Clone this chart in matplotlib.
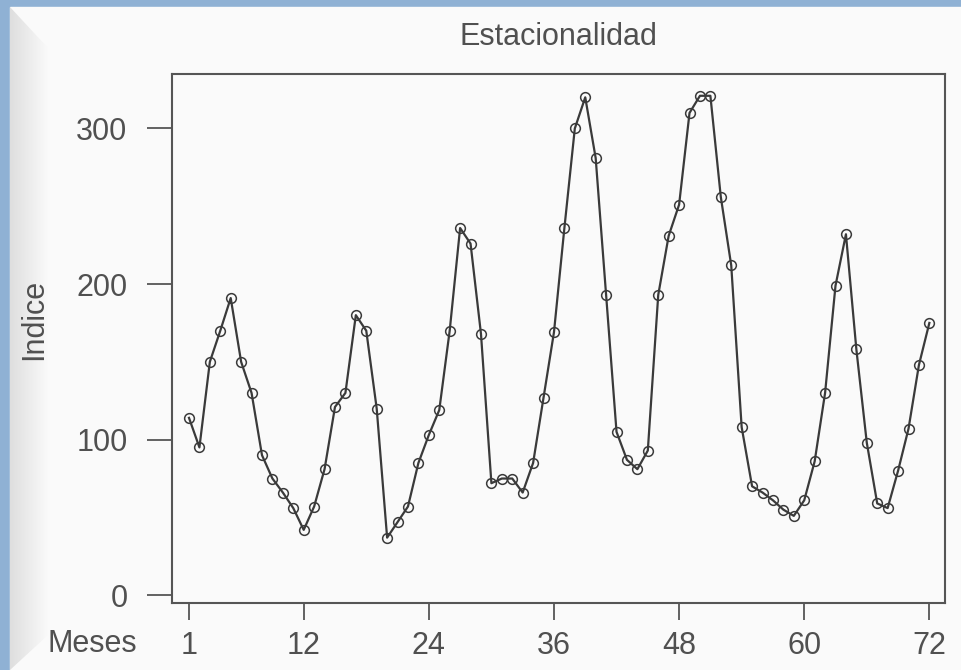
import matplotlib
matplotlib.use("Agg")
import matplotlib.pyplot as plt
from matplotlib.patches import Polygon, Rectangle

plt.rcParams['font.family'] = ['Liberation Sans', 'DejaVu Sans']

# Datos
meses = list(range(1, 73))
indice = [114, 95, 150, 170, 191, 150, 130, 90, 75, 66,
          56, 42, 57, 81, 121, 130, 180, 170, 120, 37,
          47, 57, 85, 103, 119, 170, 236, 226, 168, 72,
          75, 75, 66, 85, 127, 169, 236, 300, 320, 281,
          193, 105, 87, 81, 93, 193, 231, 251, 310, 321,
          321, 256, 212, 108, 70, 66, 61, 55, 51, 61,
          86, 130, 199, 232, 158, 98, 59, 56, 80, 107,
          148, 175]
xticks = [1, 12, 24, 36, 48, 60, 72]
yticks = [0, 100, 200, 300]

W, H = 961, 670
fig = plt.figure(figsize=(W / 100, H / 100), dpi=100)
fig.patch.set_facecolor('#8fb1d4')

# fondo tipo captura de pantalla (marco blanco con bisel a la izquierda)
bg = fig.add_axes([0, 0, 1, 1], zorder=-5)
bg.set_xlim(0, W)
bg.set_ylim(H, 0)
bg.axis('off')
bg.add_patch(Rectangle((0, 0), W, H, color='#8fb1d4'))
bg.add_patch(Rectangle((10, 7), W - 10, H - 7, color='#fafafa'))
n = 38
for k in range(n):
    x0 = 10 + k
    g = 0.87 + 0.11 * k / n
    yt0 = 7 + k * 41 / n
    yt1 = 7 + (k + 1) * 41 / n
    yb0 = H - k * 35 / n
    yb1 = H - (k + 1) * 35 / n
    bg.add_patch(Polygon([(x0, yt0), (x0 + 1, yt1), (x0 + 1, yb1), (x0, yb0)],
                         closed=True, facecolor=(g, g, g), edgecolor='none'))
bg.set_xlim(0, W)
bg.set_ylim(H, 0)

# grafico principal
left, right, top, bottom = 172, 945, 74, 603
ax = fig.add_axes([left / W, 1 - bottom / H, (right - left) / W, (bottom - top) / H])
ax.set_facecolor('#fafafa')
ax.plot(meses, indice, color='#3a3a3a', linewidth=1.6, marker='o', markersize=7,
        markerfacecolor='none', markeredgecolor='#3a3a3a', markeredgewidth=1.1)

ax.set_xlim(-0.63, 73.5)
ax.set_ylim(-5, 335)
ax.set_xticks(xticks)
ax.set_yticks(yticks)
ax.tick_params(axis='y', length=18, width=1.3, pad=14, labelsize=22,
               color='#555555', labelcolor='#505050')
ax.tick_params(axis='x', length=12, width=1.3, pad=8, labelsize=22,
               color='#555555', labelcolor='#505050')
for s in ax.spines.values():
    s.set_color('#555555')
    s.set_linewidth(1.5)

fig.text(558 / W, 1 - 37 / H, 'Estacionalidad', ha='center', va='center',
         fontsize=22, color='#505050')
fig.text(34 / W, 1 - 319 / H, 'Indice', ha='center', va='center', rotation=90,
         fontsize=22, color='#505050')
fig.text(92 / W, 1 - 644 / H, 'Meses', ha='center', va='center',
         fontsize=22, color='#505050')

fig.savefig('out.png', dpi=100, facecolor=fig.get_facecolor())
